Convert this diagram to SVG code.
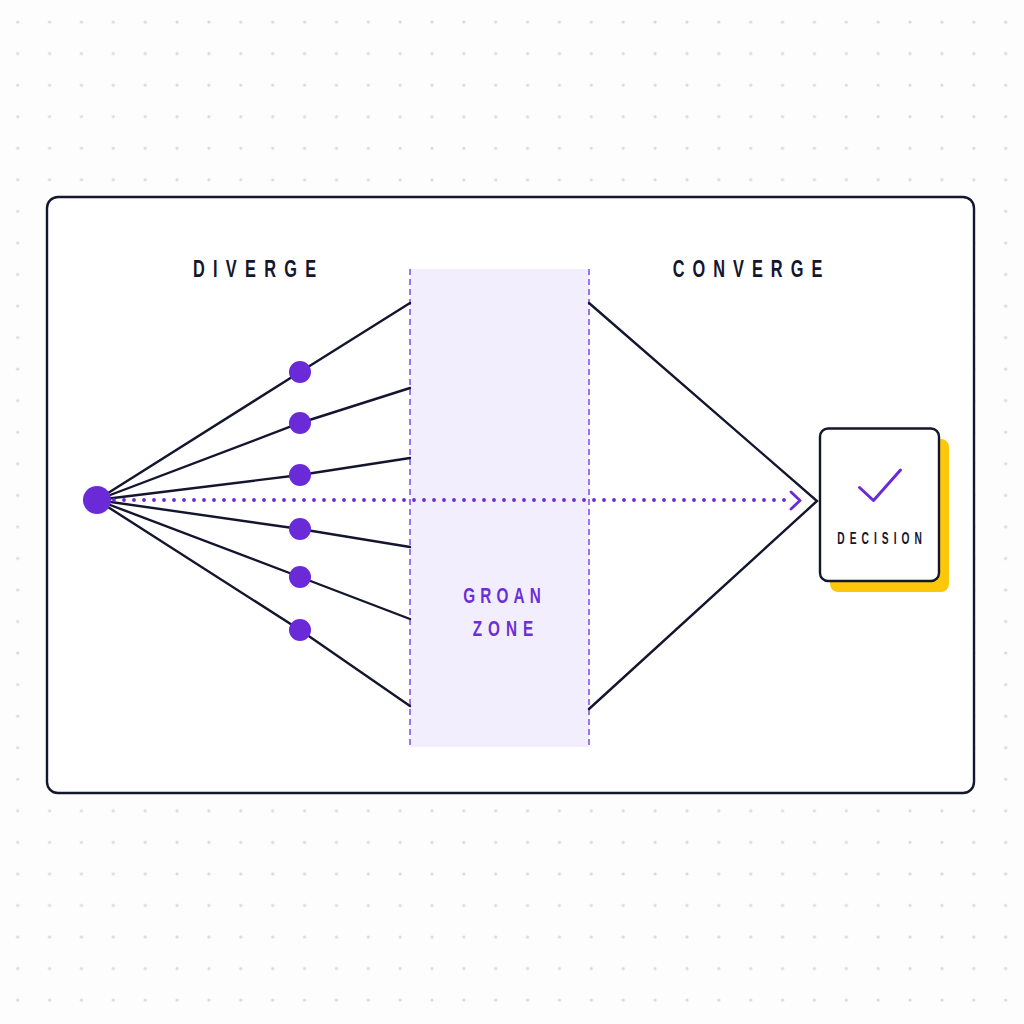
<svg xmlns="http://www.w3.org/2000/svg" width="1024" height="1024" viewBox="0 0 1024 1024">
  <defs>
    <pattern id="dots" x="1.77" y="6.2" width="31.87" height="31.55" patternUnits="userSpaceOnUse">
      <circle cx="15.93" cy="15.8" r="1.6" fill="#d4d9e7"/>
    </pattern>
    <style>
      .edge { stroke: #13162e; stroke-width: 2.4; fill: none; stroke-linecap: round; }
      .node { fill: #6a2ad8; }
      .title { font-family: "Liberation Sans", Arial, sans-serif; font-weight: 700; fill: #13162e; }
      .ptext { font-family: "Liberation Sans", Arial, sans-serif; font-weight: 700; fill: #6b2fd6; }
      .zoneedge { stroke: #7c4ce6; stroke-width: 1.5; stroke-dasharray: 6 4; fill: none; }
    </style>
  </defs>
  <rect width="1024" height="1024" fill="#fdfdfe"/>
  <rect width="1024" height="1024" fill="url(#dots)"/>

  <g id="frame">
    <rect x="47" y="197" width="927" height="596" rx="11" fill="#ffffff" stroke="#13162e" stroke-width="2.4"/>
  </g>

  <g id="groan-zone">
    <rect x="410" y="269" width="179" height="478" fill="#f3eefd"/>
    <line class="zoneedge" x1="410" y1="269" x2="410" y2="747"/>
    <line class="zoneedge" x1="589" y1="269" x2="589" y2="747"/>
    <g transform="translate(463.3,603) scale(0.68,1)">
      <text class="ptext" x="0" y="0" font-size="22.5" textLength="114" lengthAdjust="spacing">GROAN</text>
    </g>
    <g transform="translate(472.7,636) scale(0.68,1)">
      <text class="ptext" x="0" y="0" font-size="22.5" textLength="89" lengthAdjust="spacing">ZONE</text>
    </g>
  </g>

  <g id="labels">
    <g id="diverge-label" transform="translate(193,277) scale(0.68,1)">
      <text class="title" x="0" y="0" font-size="24" textLength="181" lengthAdjust="spacing">DIVERGE</text>
    </g>
    <g id="converge-label" transform="translate(672.7,277) scale(0.68,1)">
      <text class="title" x="0" y="0" font-size="24" textLength="220" lengthAdjust="spacing">CONVERGE</text>
    </g>
  </g>

  <g id="connectors">
    <polyline class="edge" points="97,500 300,372 410,303"/>
    <polyline class="edge" points="97,500 300,423 410,388"/>
    <polyline class="edge" points="97,500 300,475 410,458"/>
    <polyline class="edge" points="97,500 300,529 410,547"/>
    <polyline class="edge" points="97,500 300,577 410,619"/>
    <polyline class="edge" points="97,500 300,630 410,706"/>
    <polyline class="edge" points="589,303 817,501 589,709"/>
    <line x1="114" y1="500" x2="794" y2="500" stroke="#6a2ad8" stroke-width="3.8" stroke-linecap="round" stroke-dasharray="0 10"/>
    <polyline points="791,492 800,500.5 791,509" fill="none" stroke="#6a2ad8" stroke-width="2.8" stroke-linecap="round" stroke-linejoin="round"/>
  </g>

  <g id="hub">
    <circle class="node" cx="97" cy="500" r="14"/>
  </g>
  <g id="idea-1"><circle class="node" cx="300" cy="372" r="11"/></g>
  <g id="idea-2"><circle class="node" cx="300" cy="423" r="11"/></g>
  <g id="idea-3"><circle class="node" cx="300" cy="475" r="11"/></g>
  <g id="idea-4"><circle class="node" cx="300" cy="529" r="11"/></g>
  <g id="idea-5"><circle class="node" cx="300" cy="577" r="11"/></g>
  <g id="idea-6"><circle class="node" cx="300" cy="630" r="11"/></g>

  <g id="decision">
    <rect x="830" y="439" width="119" height="153" rx="8" fill="#fdc80c"/>
    <rect x="820" y="428.5" width="119" height="152.5" rx="8" fill="#ffffff" stroke="#13162e" stroke-width="2.4"/>
    <polyline points="859.5,487.5 873.5,500.5 900.5,470" fill="none" stroke="#6a2ad8" stroke-width="3" stroke-linecap="round" stroke-linejoin="round"/>
    <g transform="translate(837.3,544) scale(0.6,1)">
      <text class="title" x="0" y="0" font-size="17" textLength="141" lengthAdjust="spacing">DECISION</text>
    </g>
  </g>
</svg>
